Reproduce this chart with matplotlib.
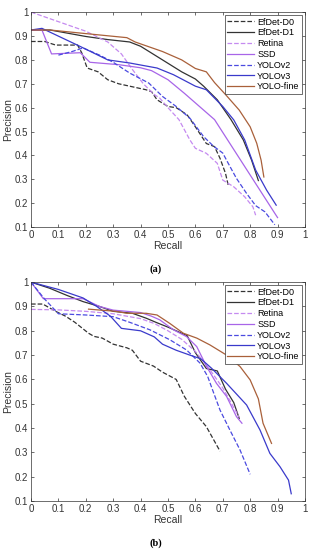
import numpy as np
import matplotlib
matplotlib.use("Agg")
import matplotlib.pyplot as plt

plt.rcParams['font.family'] = ['Liberation Sans', 'DejaVu Sans']

# ---- panel (a) ----
a_d0_r = [0, 0.05, 0.09, 0.17, 0.185, 0.205, 0.245, 0.28, 0.32, 0.38, 0.42, 0.44, 0.46, 0.5, 0.53, 0.57, 0.6, 0.64, 0.67, 0.69, 0.71, 0.72]
a_d0_p = [0.877, 0.877, 0.862, 0.862, 0.83, 0.766, 0.75, 0.717, 0.70, 0.685, 0.675, 0.667, 0.633, 0.605, 0.60, 0.57, 0.52, 0.45, 0.437, 0.388, 0.325, 0.275]

a_d1_r = [0, 0.07, 0.2, 0.28, 0.36, 0.4, 0.48, 0.55, 0.6, 0.63, 0.68, 0.73, 0.775, 0.805, 0.83]
a_d1_p = [0.925, 0.925, 0.898, 0.885, 0.875, 0.857, 0.80, 0.75, 0.72, 0.69, 0.633, 0.55, 0.465, 0.381, 0.295]

a_ret_r = [0, 0.1, 0.2, 0.28, 0.33, 0.37, 0.41, 0.45, 0.47, 0.5, 0.54, 0.58, 0.6, 0.64, 0.68, 0.70, 0.74, 0.78, 0.81, 0.82]
a_ret_p = [1.0, 0.96, 0.92, 0.875, 0.825, 0.76, 0.70, 0.655, 0.64, 0.60, 0.55, 0.465, 0.43, 0.409, 0.367, 0.297, 0.269, 0.227, 0.185, 0.15]

a_ssd_r = [0, 0.04, 0.075, 0.18, 0.215, 0.32, 0.4, 0.44, 0.5, 0.56, 0.63, 0.67, 0.9]
a_ssd_p = [0.925, 0.925, 0.825, 0.83, 0.79, 0.78, 0.767, 0.755, 0.717, 0.66, 0.59, 0.55, 0.14]

a_v2_r = [0.1, 0.15, 0.19, 0.25, 0.3, 0.36, 0.43, 0.48, 0.53, 0.58, 0.63, 0.665, 0.7, 0.72, 0.75, 0.787, 0.82, 0.854, 0.89]
a_v2_p = [0.82, 0.835, 0.85, 0.82, 0.79, 0.745, 0.703, 0.647, 0.605, 0.556, 0.479, 0.44, 0.41, 0.367, 0.304, 0.241, 0.19, 0.164, 0.11]

a_v3_r = [0, 0.04, 0.18, 0.28, 0.36, 0.46, 0.52, 0.6, 0.64, 0.7, 0.74, 0.78, 0.82, 0.86, 0.895]
a_v3_p = [0.925, 0.932, 0.856, 0.80, 0.787, 0.766, 0.738, 0.69, 0.675, 0.605, 0.549, 0.465, 0.339, 0.255, 0.192]

a_fine_r = [0, 0.07, 0.2, 0.35, 0.38, 0.48, 0.55, 0.6, 0.64, 0.67, 0.71, 0.76, 0.8, 0.824, 0.84, 0.85]
a_fine_p = [0.925, 0.925, 0.91, 0.893, 0.875, 0.835, 0.80, 0.764, 0.75, 0.705, 0.655, 0.59, 0.52, 0.451, 0.38, 0.31]

# ---- panel (b) ----
b_d0_r = [0, 0.043, 0.09, 0.126, 0.16, 0.21, 0.23, 0.26, 0.3, 0.35, 0.37, 0.4, 0.447, 0.48, 0.53, 0.56, 0.6, 0.64, 0.69]
b_d0_p = [0.91, 0.91, 0.88, 0.86, 0.835, 0.79, 0.777, 0.77, 0.745, 0.73, 0.72, 0.675, 0.655, 0.63, 0.60, 0.53, 0.46, 0.406, 0.305]

b_d1_r = [0, 0.068, 0.13, 0.19, 0.25, 0.3, 0.37, 0.42, 0.46, 0.5, 0.53, 0.57, 0.6, 0.64, 0.68, 0.71, 0.74, 0.76]
b_d1_p = [1.0, 0.975, 0.946, 0.92, 0.90, 0.88, 0.872, 0.852, 0.833, 0.815, 0.80, 0.78, 0.71, 0.645, 0.635, 0.56, 0.505, 0.44]

b_ret_r = [0, 0.1, 0.2, 0.3, 0.4, 0.45, 0.5, 0.55, 0.6, 0.65, 0.7, 0.74, 0.76]
b_ret_p = [0.888, 0.886, 0.88, 0.87, 0.85, 0.83, 0.80, 0.765, 0.715, 0.645, 0.565, 0.485, 0.445]

b_ssd_r = [0, 0.02, 0.045, 0.19, 0.25, 0.3, 0.4, 0.44, 0.47, 0.52, 0.568, 0.605, 0.641, 0.677, 0.714, 0.75, 0.77]
b_ssd_p = [1.0, 0.97, 0.932, 0.932, 0.90, 0.885, 0.875, 0.86, 0.845, 0.804, 0.776, 0.735, 0.653, 0.584, 0.53, 0.447, 0.42]

b_v2_r = [0, 0.05, 0.1, 0.2, 0.3, 0.36, 0.434, 0.507, 0.568, 0.617, 0.645, 0.665, 0.69, 0.726, 0.763, 0.8]
b_v2_p = [1.0, 0.93, 0.87, 0.865, 0.858, 0.835, 0.804, 0.763, 0.721, 0.667, 0.612, 0.55, 0.474, 0.392, 0.31, 0.21]

b_v3_r = [0, 0.1, 0.19, 0.24, 0.29, 0.33, 0.4, 0.45, 0.48, 0.53, 0.58, 0.62, 0.66, 0.714, 0.787, 0.836, 0.872, 0.909, 0.94, 0.95]
b_v3_p = [1.0, 0.97, 0.935, 0.90, 0.86, 0.81, 0.80, 0.775, 0.745, 0.72, 0.70, 0.685, 0.645, 0.584, 0.495, 0.392, 0.296, 0.241, 0.186, 0.13]

b_fine_r = [0.21, 0.31, 0.35, 0.42, 0.46, 0.507, 0.556, 0.605, 0.653, 0.714, 0.763, 0.8, 0.83, 0.847, 0.878]
b_fine_p = [0.889, 0.88, 0.872, 0.872, 0.865, 0.83, 0.79, 0.77, 0.742, 0.70, 0.653, 0.598, 0.52, 0.42, 0.337]

names = ['EfDet-D0', 'EfDet-D1', 'Retina', 'SSD', 'YOLOv2', 'YOLOv3', 'YOLO-fine']
colors = ['#333333', '#333333', '#c58af0', '#a865e8', '#4a4ae0', '#3a3acb', '#a9603a']
styles = ['--', '-', '--', '-', '--', '-', '-']

panel_a = [(a_d0_r, a_d0_p), (a_d1_r, a_d1_p), (a_ret_r, a_ret_p), (a_ssd_r, a_ssd_p),
           (a_v2_r, a_v2_p), (a_v3_r, a_v3_p), (a_fine_r, a_fine_p)]
panel_b = [(b_d0_r, b_d0_p), (b_d1_r, b_d1_p), (b_ret_r, b_ret_p), (b_ssd_r, b_ssd_p),
           (b_v2_r, b_v2_p), (b_v3_r, b_v3_p), (b_fine_r, b_fine_p)]

fig = plt.figure(figsize=(3.12, 5.5), dpi=100)
ax_a = fig.add_axes([0.0994, 0.587, 0.878, 0.391])
ax_b = fig.add_axes([0.0994, 0.089, 0.878, 0.398])

for ax, data, tag, ty in [(ax_a, panel_a, '(a)', 0.511), (ax_b, panel_b, '(b)', 0.013)]:
    for (r, p), name, c, ls in zip(data, names, colors, styles):
        ax.plot(r, p, ls, color=c, lw=0.9, label=name)
    ax.set_xlim(0, 1)
    ax.set_ylim(0.1, 1)
    ax.set_xticks(np.arange(0, 1.01, 0.1))
    ax.set_yticks(np.arange(0.1, 1.01, 0.1))
    ax.set_xticklabels(['0', '0.1', '0.2', '0.3', '0.4', '0.5', '0.6', '0.7', '0.8', '0.9', '1'])
    ax.set_yticklabels(['0.1', '0.2', '0.3', '0.4', '0.5', '0.6', '0.7', '0.8', '0.9', '1'])
    ax.tick_params(direction='in', top=True, right=True, labelsize=7, length=2.5,
                   width=0.5, colors='#333333', pad=2)
    for s in ax.spines.values():
        s.set_linewidth(0.5)
        s.set_color('#333333')
    ax.set_xlabel('Recall', fontsize=7.5, color='#333333', labelpad=1)
    ax.set_ylabel('Precision', fontsize=7.5, color='#333333', labelpad=1)
    leg = ax.legend(loc='upper right', fontsize=6.5, handlelength=3.0, handletextpad=0.3,
                    labelspacing=0.2, borderpad=0.3, borderaxespad=0.3, fancybox=False,
                    framealpha=1)
    leg.get_frame().set_edgecolor('#333333')
    leg.get_frame().set_linewidth(0.5)
    fig.text(0.5, ty, tag, ha='center', va='center', fontsize=7.5, fontweight='bold',
             family=['Liberation Serif', 'DejaVu Serif'])

fig.savefig('out.png', dpi=100)
